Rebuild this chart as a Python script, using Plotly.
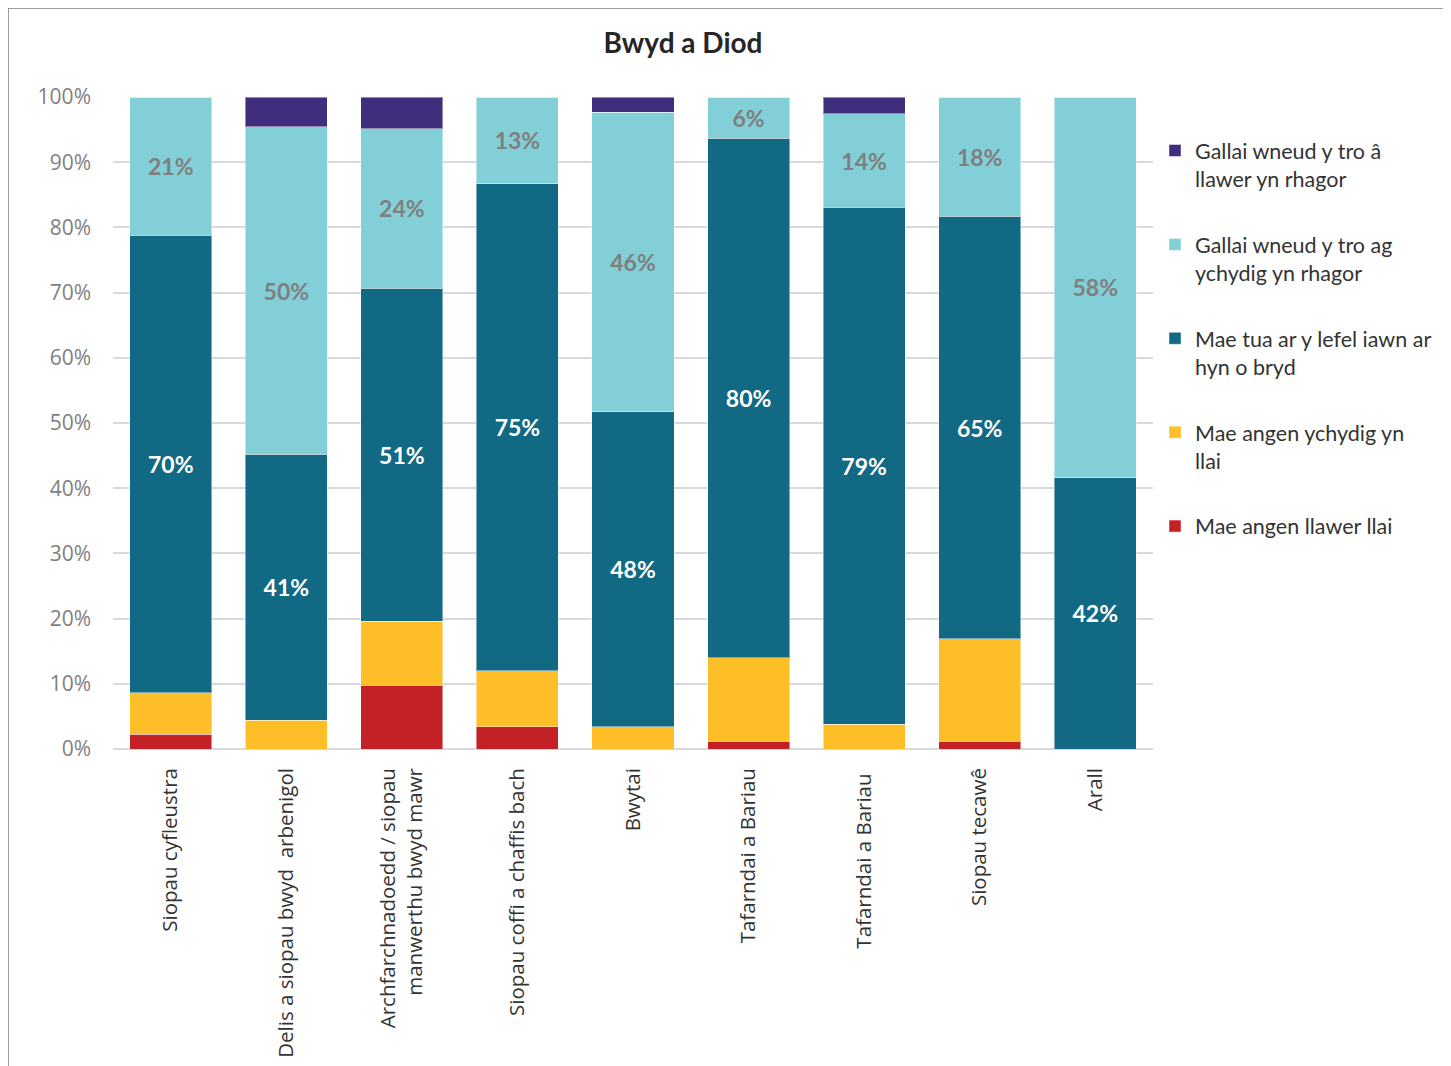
import plotly.graph_objects as go

categories = [
    "Siopau cyfleustra",
    "Delis a siopau bwyd  arbenigol",
    "Archfarchnadoedd / siopau<br>manwerthu bwyd mawr",
    "Siopau coffi a chaffis bach",
    "Bwytai",
    "Tafarndai a Bariau",
    "Tafarndai a Bariau ",
    "Siopau tecawê",
    "Arall",
]

series_names = [
    "Mae angen llawer llai",
    "Mae angen ychydig yn<br>llai",
    "Mae tua ar y lefel iawn ar<br>hyn o bryd",
    "Gallai wneud y tro ag<br>ychydig yn rhagor",
    "Gallai wneud y tro â<br>llawer yn rhagor",
]

red = [2.3, 0, 9.8, 3.4, 0, 1.2, 0, 1.2, 0]
yellow = [6.3, 4.4, 9.8, 8.6, 3.4, 12.8, 3.8, 15.7, 0]
dark = [70.2, 40.8, 51.1, 74.7, 48.3, 79.7, 79.3, 64.8, 41.6]
light = [21.2, 50.2, 24.4, 13.3, 46.0, 6.3, 14.3, 18.3, 58.4]
purple = [0, 4.6, 4.9, 0, 2.3, 0, 2.6, 0, 0]

y_tick_values = list(range(0, 101, 10))
y_tick_labels = [f"{v}%" for v in y_tick_values]

values = [red, yellow, dark, light, purple]
colors = ["#c42127", "#fdbe27", "#116983", "#82cfd7", "#402d7b"]
show_labels = [False, False, True, True, False]
label_colors = [None, None, "#ffffff", "#7f7f7f", None]
legend_ranks = [5, 4, 3, 2, 1]

# page has an 8px body margin; work in reference coords shifted by 8
OFF = 8
W, H = 1451 - OFF, 1066 - OFF
L, R, T, B = 113 - OFF, 1153 - OFF, 97 - OFF, 749 - OFF

fig = go.Figure()
for name, vals, col, show, lc, rk in zip(series_names, values, colors, show_labels, label_colors, legend_ranks):
    if show:
        txt = [f"{round(v)}%" if v >= 5 else "" for v in vals]
    else:
        txt = None
    fig.add_trace(go.Bar(
        x=categories, y=vals, name=name,
        marker=dict(color=col, line=dict(color="rgba(255,255,255,0.45)", width=1)),
        text=txt,
        textposition="inside" if show else "none",
        insidetextanchor="middle",
        textangle=0,
        constraintext="none",
        textfont=dict(family="Lato", size=23, color=lc if lc else "#fff", weight="bold"),
        legendgroup=name,
        legendrank=rk,
        hoverinfo="skip",
    ))

fig.update_layout(
    width=W, height=H,
    barmode="stack",
    bargap=0.29,
    plot_bgcolor="white",
    paper_bgcolor="white",
    margin=dict(l=L, r=W - R, t=T, b=H - B, autoexpand=False),
    title=dict(
        text="<b>Bwyd a Diod</b>",
        x=(683 - 113) / (1153 - 113), xanchor="center", xref="paper",
        y=1 - (43 - OFF) / H, yanchor="middle", yref="container",
        font=dict(family="Lato", size=28, color="#262626"),
    ),
    legend=dict(
        x=(1155 - 113) / (1153 - 113), xanchor="left",
        y=1 - (130 - 97) / (749 - 97), yanchor="top",
        traceorder="grouped",
        tracegroupgap=35,
        valign="top",
        font=dict(family="Lato", size=21.5, color="#333333"),
        bgcolor="rgba(0,0,0,0)",
        itemclick=False,
    ),
    showlegend=True,
)

fig.update_xaxes(
    tickangle=-90,
    tickfont=dict(family="Open Sans", size=20.5, color="#333333"),
    showgrid=False,
    showline=False,
    ticks="",
    ticklabelstandoff=14,
)
fig.update_yaxes(
    range=[0, 100],
    tickmode="array",
    tickvals=y_tick_values,
    ticktext=y_tick_labels,
    tickfont=dict(family="Open Sans", size=21, color="#7f7f7f"),
    showgrid=True, gridcolor="#d9d9d9", gridwidth=2,
    zeroline=True, zerolinecolor="#d9d9d9", zerolinewidth=2,
    ticks="", ticklen=0,
    ticklabelstandoff=21,
)

# outer frame of the chart area
fig.add_shape(
    type="rect", xref="paper", yref="paper",
    x0=(8 - 113) / (1153 - 113), x1=(1444 - 113) / (1153 - 113),
    y0=(749 - 1090) / (749 - 97), y1=(749 - 8) / (749 - 97),
    line=dict(color="#808080", width=1.5),
    fillcolor="rgba(0,0,0,0)",
    layer="below",
)

fig.write_html("out.html")
